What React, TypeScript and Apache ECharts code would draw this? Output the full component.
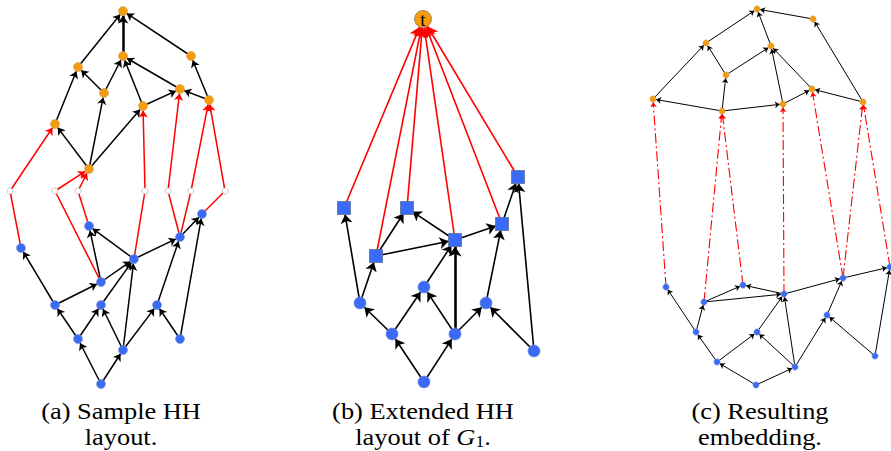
import React, { useEffect, useRef } from "react";
import * as echarts from "echarts";

// Node positions: [id, x, y, kind]
// kinds: o = orange, b = blue, d = dummy (hollow), s = square, t = target
const nodesA: [string, number, number, string][] = [
  ["aT", 123, 11, "o"], ["a1", 78, 67, "o"], ["a2", 123, 56, "o"], ["a3", 191, 56, "o"],
  ["a4", 104, 93, "o"], ["a5", 180, 89, "o"], ["a6", 209, 100, "o"], ["a7", 143, 106, "o"],
  ["a8", 55, 124, "o"], ["a9", 89, 169, "o"],
  ["ad1", 10, 191, "d"], ["ad2", 55, 191, "d"], ["ad3", 78, 191, "d"], ["ad4", 145, 191, "d"],
  ["ad5", 168, 191, "d"], ["ad6", 191, 191, "d"], ["ad7", 225, 191, "d"],
  ["ab1", 89, 226, "b"], ["ab2", 21, 248, "b"], ["ab3", 134, 259, "b"], ["ab4", 180, 237, "b"],
  ["ab5", 202, 214, "b"], ["ab6", 101, 282, "b"], ["ab7", 55, 305, "b"], ["ab8", 101, 305, "b"],
  ["ab9", 157, 305, "b"], ["ab10", 78, 339, "b"], ["ab11", 123, 350, "b"], ["ab12", 180, 339, "b"],
  ["ab13", 101, 384, "b"],
];

const edgesABlack: [string, string][] = [
  ["a1", "aT"], ["a3", "aT"], ["a8", "a1"], ["a4", "a1"], ["a4", "a2"], ["a7", "a2"],
  ["a5", "a2"], ["a6", "a3"], ["a6", "a5"], ["a7", "a5"], ["a9", "a8"], ["a9", "a4"], ["a9", "a7"],
  ["ab7", "ab2"], ["ab7", "ab6"], ["ab6", "ab1"], ["ab3", "ab1"], ["ab6", "ab3"], ["ab8", "ab3"],
  ["ab11", "ab3"], ["ab3", "ab4"], ["ab9", "ab4"], ["ab4", "ab5"], ["ab12", "ab5"],
  ["ab10", "ab7"], ["ab10", "ab8"], ["ab11", "ab8"], ["ab11", "ab9"], ["ab12", "ab9"],
  ["ab13", "ab10"], ["ab13", "ab11"],
];
const edgesAThick: [string, string][] = [["a2", "aT"]];
const edgesARedIn: [string, string][] = [
  ["ab2", "ad1"], ["ab6", "ad2"], ["ab1", "ad3"], ["ab3", "ad4"], ["ab4", "ad5"], ["ab4", "ad6"], ["ab5", "ad7"],
];
const edgesARedOut: [string, string][] = [
  ["ad1", "a8"], ["ad2", "a9"], ["ad3", "a9"], ["ad4", "a7"], ["ad5", "a5"], ["ad6", "a6"], ["ad7", "a6"],
];

const nodesB: [string, number, number, string][] = [
  ["t", 423, 19, "t"],
  ["s1", 344, 208, "s"], ["s2", 407, 208, "s"], ["s3", 376, 256, "s"], ["s4", 455, 240, "s"],
  ["s5", 502, 224, "s"], ["s6", 518, 177, "s"],
  ["c1", 360, 303, "b"], ["c2", 424, 287, "b"], ["c3", 392, 334, "b"], ["c4", 455, 334, "b"],
  ["c5", 486, 303, "b"], ["c6", 534, 351, "b"], ["c7", 424, 382, "b"],
];
const edgesBBlack: [string, string][] = [
  ["c1", "s1"], ["c1", "s3"], ["s3", "s2"], ["s3", "s4"], ["s4", "s2"], ["s4", "s5"], ["c2", "s4"],
  ["c5", "s5"], ["s5", "s6"], ["c6", "s6"], ["c3", "c1"], ["c3", "c2"], ["c4", "c2"], ["c4", "c5"],
  ["c6", "c5"], ["c7", "c3"], ["c7", "c4"],
];
const edgesBThick: [string, string][] = [["c4", "s4"]];
const edgesBRed: [string, string][] = [
  ["s1", "t"], ["s3", "t"], ["s2", "t"], ["s4", "t"], ["s5", "t"], ["s6", "t"],
];

const nodesC: [string, number, number, string][] = [
  ["cT", 757, 9, "o"], ["u1", 813, 19, "o"], ["u2", 706, 43, "o"], ["u3", 771, 46, "o"],
  ["u4", 726, 75, "o"], ["u5", 653, 99, "o"], ["u6", 722, 111, "o"], ["u7", 783, 104, "o"],
  ["u8", 812, 89, "o"], ["u9", 863, 102, "o"],
  ["l1", 666, 287, "b"], ["l2", 704, 302, "b"], ["l3", 743, 285, "b"], ["l4", 784, 294, "b"],
  ["l5", 843, 278, "b"], ["l6", 890, 267, "b"], ["l7", 696, 332, "b"], ["l8", 757, 332, "b"],
  ["l9", 827, 315, "b"], ["l10", 717, 362, "b"], ["l11", 795, 367, "b"], ["l12", 875, 356, "b"],
  ["l13", 756, 385, "b"],
];
const edgesCBlack: [string, string][] = [
  ["u2", "cT"], ["u1", "cT"], ["u3", "cT"], ["u4", "u2"], ["u4", "u3"], ["u5", "u2"], ["u6", "u5"],
  ["u6", "u4"], ["u6", "u7"], ["u7", "u3"], ["u7", "u8"], ["u8", "u3"], ["u9", "u8"], ["u9", "u1"],
  ["l7", "l1"], ["l7", "l2"], ["l2", "l3"], ["l2", "l4"], ["l4", "l3"], ["l4", "l5"], ["l5", "l6"],
  ["l8", "l4"], ["l11", "l4"], ["l9", "l5"], ["l12", "l6"], ["l10", "l7"], ["l10", "l8"],
  ["l11", "l8"], ["l11", "l9"], ["l12", "l9"], ["l13", "l10"], ["l13", "l11"],
];
const edgesCRed: [string, string][] = [
  ["l1", "u5"], ["l2", "u6"], ["l3", "u6"], ["l4", "u7"], ["l5", "u8"], ["l5", "u9"], ["l6", "u9"],
];

const captions = [
  { x: 121, lines: ["{n|(a) Sample HH}", "{n|layout.}"] },
  { x: 423, lines: ["{n|(b) Extended HH}", "{n|layout of }{i|G}{s|1}{n|.}"] },
  { x: 760, lines: ["{n|(c) Resulting}", "{n|embedding.}"] },
];

const ORANGE = "#F59B0C";
const BLUE = "#3B6BF6";
const SERIF = "Liberation Serif";

function nodeItem(n: [string, number, number, string], scale: number) {
  const [id, x, y, k] = n;
  if (k === "o")
    return { name: id, value: [x, y], symbol: "circle", symbolSize: 9 * scale,
      itemStyle: { color: ORANGE, borderColor: "#c9a66a", borderWidth: 0.6 } };
  if (k === "b")
    return { name: id, value: [x, y], symbol: "circle", symbolSize: 9 * scale,
      itemStyle: { color: BLUE, borderColor: "#7e97d6", borderWidth: 0.6 } };
  if (k === "d")
    return { name: id, value: [x, y], symbol: "circle", symbolSize: 6,
      itemStyle: { color: "#ffffff", borderColor: "#bbbbbb", borderWidth: 0.8 } };
  if (k === "s")
    return { name: id, value: [x, y], symbol: "rect", symbolSize: 13,
      itemStyle: { color: BLUE, borderColor: "#5d6f9c", borderWidth: 0.8 } };
  return { name: id, value: [x, y], symbol: "circle", symbolSize: 17,
    itemStyle: { color: ORANGE, borderColor: "#8a7a60", borderWidth: 0.8 },
    label: { show: true, position: "inside", formatter: "t", color: "#000",
      fontFamily: SERIF, fontSize: 19, offset: [0, 0] } };
}

function links(list: [string, string][], color: string, width: number, arrow: boolean, size: number, type: any = "solid") {
  return list.map(([s, t]) => ({
    source: s, target: t,
    symbol: arrow ? ["none", "arrow"] : ["none", "none"],
    symbolSize: size,
    lineStyle: { color, width, type, opacity: 1, curveness: 0 },
  }));
}

export default function App() {
  const ref = useRef<HTMLDivElement>(null);
  useEffect(() => {
    document.body.style.margin = "0";
    const chart = echarts.init(ref.current!, undefined, { renderer: "svg" });
    const base = {
      type: "graph", coordinateSystem: "cartesian2d", layout: "none", roam: false,
      label: { show: false }, emphasis: { disabled: true }, silent: true,
    };
    const graphics: any[] = [];
    captions.forEach((c) => {
      c.lines.forEach((ln, i) => {
        graphics.push({
          type: "text", x: c.x, y: 411 + i * 26, scaleX: 1.1,
          style: {
            text: ln, fill: "#000", font: "24px \"Liberation Serif\"",
            align: "center", verticalAlign: "middle",
            rich: {
              n: { fontFamily: SERIF, fontSize: 24, fill: "#000", lineHeight: 26 },
              i: { fontFamily: SERIF, fontStyle: "italic", fontSize: 24, fill: "#000", lineHeight: 26 },
              s: { fontFamily: SERIF, fontSize: 16, fill: "#000", lineHeight: 16, verticalAlign: "bottom" },
            },
          },
        });
      });
    });
    chart.setOption({
      animation: false,
      grid: { left: 0, right: 0, top: 0, bottom: 0 },
      xAxis: { type: "value", min: 0, max: 891, show: false },
      yAxis: { type: "value", min: 0, max: 451, inverse: true, show: false },
      series: [
        {
          ...base,
          data: nodesA.map((n) => nodeItem(n, 1)),
          links: [
            ...links(edgesARedIn, "#ff0000", 1.5, false, 7),
            ...links(edgesARedOut, "#ff0000", 1.5, true, 7),
            ...links(edgesABlack, "#000000", 1.5, true, 7),
            ...links(edgesAThick, "#000000", 2.5, true, 8),
          ],
        },
        {
          ...base,
          data: nodesB.map((n) => nodeItem(n, 1.35)),
          links: [
            ...links(edgesBRed, "#ff0000", 1.6, true, 10),
            ...links(edgesBBlack, "#000000", 1.6, true, 9),
            ...links(edgesBThick, "#000000", 2.6, true, 10),
          ],
        },
        {
          ...base,
          data: nodesC.map((n) => nodeItem(n, 0.7)),
          links: [
            ...links(edgesCRed, "#ff0000", 1.1, true, 5, [10, 3, 2, 3]),
            ...links(edgesCBlack, "#000000", 1, true, 5),
          ],
        },
      ],
      graphic: graphics,
    });
    return () => chart.dispose();
  }, []);
  return <div ref={ref} style={{ width: 891, height: 451 }} />;
}
